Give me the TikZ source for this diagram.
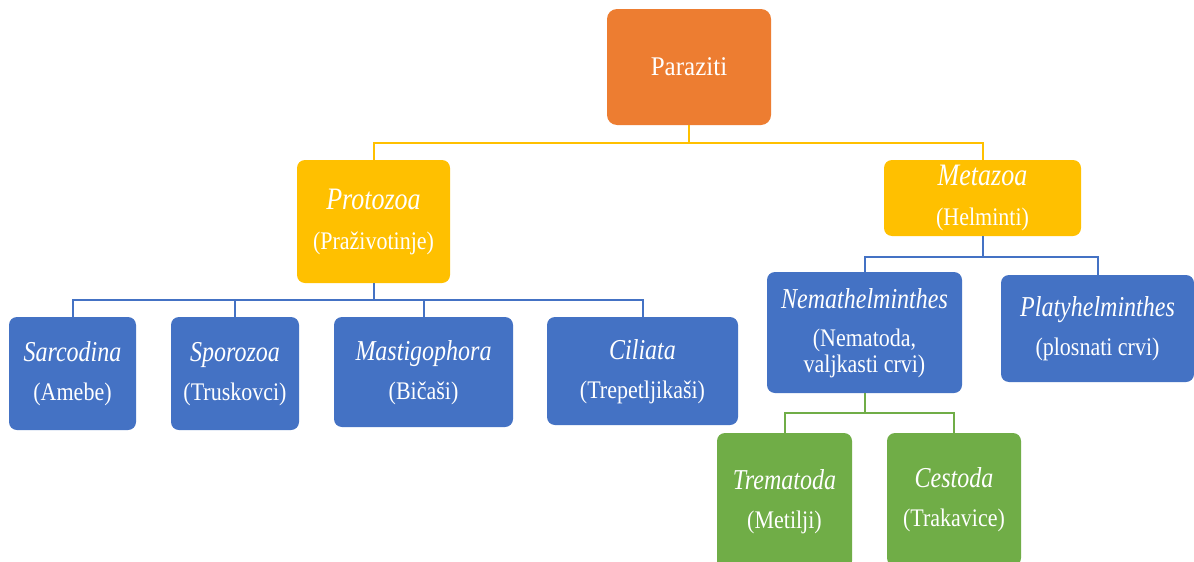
\documentclass[tikz,border=0pt]{standalone}
\usepackage{fontspec}
\setmainfont{Liberation Serif}
\definecolor{corange}{HTML}{ED7D31}
\definecolor{cyellow}{HTML}{FFC000}
\definecolor{cblue}{HTML}{4472C4}
\definecolor{cgreen}{HTML}{70AD47}
\newcommand{\latname}[2][24]{\raisebox{0pt}[20pt][6pt]{\scalebox{1}[1.2]{\fontsize{#1}{26}\selectfont\itshape #2}}}
\newcommand{\regline}[1]{\raisebox{0pt}[19.5pt][5pt]{\scalebox{1}[1.15]{#1}}}
\tikzset{
  box/.style={rectangle, rounded corners=8pt, inner sep=0pt, text=white, align=center,
    font=\fontsize{22}{26}\selectfont},
  obox/.style={box, fill=corange, rounded corners=10pt},
  ybox/.style={box, fill=cyellow},
  bbox/.style={box, fill=cblue},
  gbox/.style={box, fill=cgreen},
  conn/.style={line width=2pt},
}
\begin{document}
\begin{tikzpicture}[x=1pt,y=-1pt]
\clip (0,0) rectangle (1194,562);
\fill[white] (0,0) rectangle (1194,562);
\node[obox, minimum width=164pt, minimum height=116pt, font=\fontsize{25}{28}\selectfont] (par) at (689,67) {\scalebox{1}[1.08]{Paraziti}};
\node[ybox, minimum width=153pt, minimum height=123pt] (pro) at (373.5,221.5) {\latname[26]{Protozoa}\\[14pt]\regline{(Praživotinje)}};
\node[ybox, minimum width=197pt, minimum height=76pt] (met) at (982.5,198) {\latname[26]{Metazoa}\\[14pt]\regline{(Helminti)}};
\node[bbox, minimum width=127pt, minimum height=113pt] (sar) at (72.5,373.5) {\latname{Sarcodina}\\[13pt]\regline{(Amebe)}};
\node[bbox, minimum width=128pt, minimum height=113pt] (spo) at (235,373.5) {\latname{Sporozoa}\\[13pt]\regline{(Truskovci)}};
\node[bbox, minimum width=179pt, minimum height=110pt] (mas) at (423.5,372) {\latname{Mastigophora}\\[13pt]\regline{(Bičaši)}};
\node[bbox, minimum width=191pt, minimum height=108pt] (cil) at (642.5,371) {\latname{Ciliata}\\[13pt]\regline{(Trepetljikaši)}};
\node[bbox, minimum width=195pt, minimum height=121pt] (nem) at (864.5,332.5) {\latname{Nemathelminthes}\\[12pt]\regline{(Nematoda,}\\\regline{valjkasti crvi)}};
\node[bbox, minimum width=193pt, minimum height=107pt] (pla) at (1097.5,328.5) {\latname{Platyhelminthes}\\[13pt]\regline{(plosnati crvi)}};
\node[gbox, minimum width=135pt, minimum height=136pt] (tre) at (784.5,501) {\latname{Trematoda}\\[13pt]\regline{(Metilji)}};
\node[gbox, minimum width=134pt, minimum height=133pt] (ces) at (954,499.5) {\latname{Cestoda}\\[13pt]\regline{(Trakavice)}};
\coordinate (ybus) at (0,143);
\coordinate (bbus) at (0,300);
\coordinate (mbus) at (0,257);
\coordinate (gbus) at (0,413);
\draw[conn, cyellow] (pro.north) |- (par.south |- ybus) -| (met.north);
\draw[conn, cyellow] (par.south) -- (par.south |- ybus);
\draw[conn, cblue] (sar.north) |- (cil.north |- bbus) -- (cil.north);
\draw[conn, cblue] (pro.south) -- (pro.south |- bbus);
\draw[conn, cblue] (spo.north) -- (spo.north |- bbus);
\draw[conn, cblue] (mas.north) -- (mas.north |- bbus);
\draw[conn, cblue] (nem.north) |- (pla.north |- mbus) -- (pla.north);
\draw[conn, cblue] (met.south) -- (met.south |- mbus);
\draw[conn, cgreen] (tre.north) |- (ces.north |- gbus) -- (ces.north);
\draw[conn, cgreen] (nem.south) -- (nem.south |- gbus);
\end{tikzpicture}
\end{document}
